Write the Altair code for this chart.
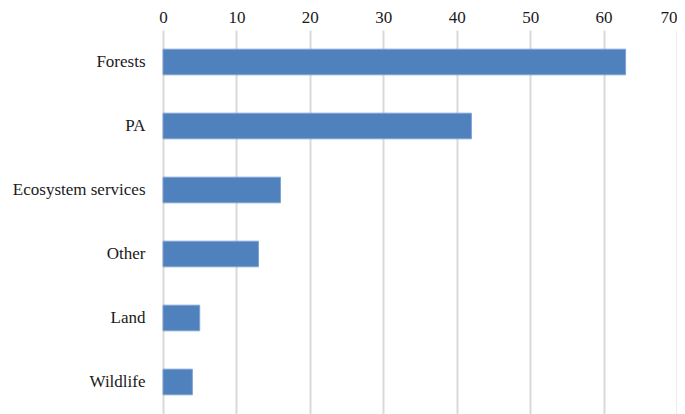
import altair as alt
import pandas as pd

categories = ["Forests", "PA", "Ecosystem services", "Other", "Land", "Wildlife"]
values = [63, 42, 16, 13, 5, 4]
ticks = [0, 10, 20, 30, 40, 50, 60, 70]

df = pd.DataFrame({"category": categories, "value": values})

FONT = "Liberation Serif"

chart = alt.Chart(df).mark_bar(
    color="#4F81BD", stroke="#7EA3D3", strokeWidth=1
).encode(
    x=alt.X("value:Q",
            scale=alt.Scale(domain=[0, 70], nice=False, zero=True),
            axis=alt.Axis(orient="top", values=ticks, title=None, domain=False,
                          ticks=False, tickSize=0, labelPadding=4, grid=True,
                          gridColor="#D9D9D9", gridWidth=2,
                          labelFont=FONT, labelFontSize=17, labelColor="#1a1a1a",
                          labelAlign=alt.expr("datum.value == 70 ? 'right' : 'center'"),
                          labelFlush=False)),
    y=alt.Y("category:N", sort=categories,
            scale=alt.Scale(paddingInner=0.6, paddingOuter=0.3),
            axis=alt.Axis(title=None, domain=False, ticks=False, labelPadding=18,
                          labelFont=FONT, labelFontSize=17, labelColor="#1a1a1a",
                          labelLimit=400)),
).properties(
    width=514, height=384,
    autosize=alt.AutoSizeParams(type="none"),
    padding={"left": 155, "top": 22, "right": 0, "bottom": 0},
).configure_view(stroke=None)

chart.save("out.html", embed_options={"renderer": "svg", "actions": False})
